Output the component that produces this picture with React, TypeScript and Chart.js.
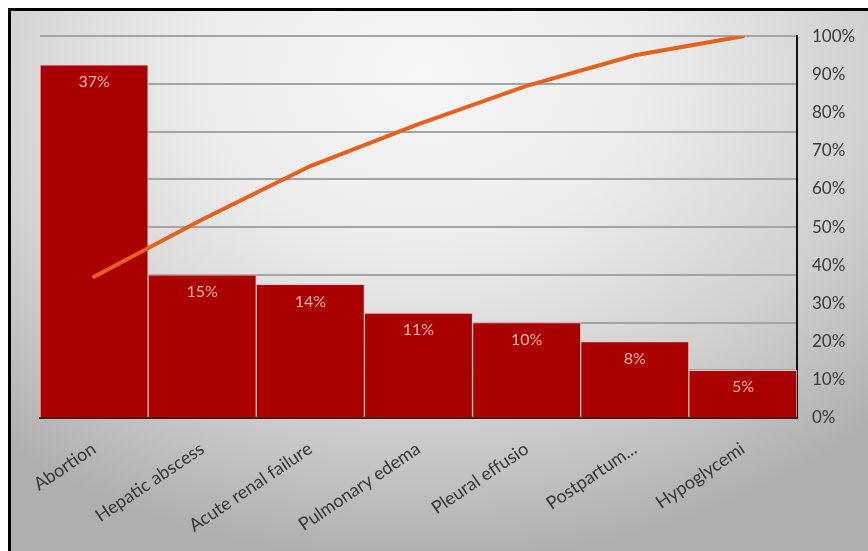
import React, { useEffect, useRef } from "react";
import { Chart, registerables } from "chart.js";

Chart.register(...registerables);

const categories = [
  "Abortion",
  "Hepatic abscess",
  "Acute renal failure",
  "Pulmonary edema",
  "Pleural effusio",
  "Postpartum...",
  "Hypoglycemi",
];
const barValues = [37, 15, 14, 11, 10, 8, 5];
const barLabels = ["37%", "15%", "14%", "11%", "10%", "8%", "5%"];
const cumulative = [0.37, 0.52, 0.66, 0.77, 0.87, 0.95, 1.0];

const FONT = "Lato, 'Open Sans', sans-serif";

const barLabelPlugin = {
  id: "barLabels",
  afterDatasetsDraw(chart: any) {
    const meta = chart.getDatasetMeta(1);
    const ctx = chart.ctx;
    ctx.save();
    ctx.fillStyle = "#f7b0b0";
    ctx.font = `16px ${FONT}`;
    ctx.textAlign = "center";
    ctx.textBaseline = "middle";
    meta.data.forEach((bar: any, i: number) => {
      ctx.fillText(barLabels[i], bar.x, bar.y + 17);
    });
    ctx.restore();
  },
};

export default function App() {
  const ref = useRef<HTMLCanvasElement>(null);
  useEffect(() => {
    if (!ref.current) return;
    const chart = new Chart(ref.current, {
      type: "bar",
      data: {
        labels: categories,
        datasets: [
          {
            type: "line",
            data: cumulative,
            yAxisID: "y1",
            borderColor: "#e8601c",
            borderWidth: 4,
            pointRadius: 0,
            tension: 0,
            borderCapStyle: "round",
            order: 0,
          } as any,
          {
            type: "bar",
            data: barValues,
            yAxisID: "y",
            backgroundColor: "#aa0000",
            borderColor: "#f0c2c2",
            borderWidth: 1,
            barPercentage: 1,
            categoryPercentage: 1,
            order: 1,
          } as any,
        ],
      },
      options: {
        responsive: false,
        animation: false,
        layout: { padding: { top: 22, left: 29, right: 0, bottom: 0 } },
        plugins: {
          legend: { display: false },
          tooltip: { enabled: false },
        },
        scales: {
          x: {
            grid: { display: false },
            border: { display: true, color: "#4a1818", width: 2 },
            ticks: {
              color: "#353535",
              font: { family: FONT, size: 18 },
              minRotation: 34,
              maxRotation: 34,
              autoSkip: false,
              padding: 12,
            },
            afterFit(scale: any) {
              scale.height = 133;
            },
          },
          y: {
            position: "left",
            min: 0,
            max: 40,
            ticks: { display: false, stepSize: 5 },
            border: { display: false },
            grid: { color: "#a4a4a4", lineWidth: 2, drawTicks: false },
            afterFit(scale: any) {
              scale.width = 0;
            },
          },
          y1: {
            position: "right",
            min: 0,
            max: 1,
            ticks: {
              stepSize: 0.1,
              color: "#383838",
              font: { family: FONT, size: 17 },
              padding: 15,
              callback: (v: any) => `${Math.round(Number(v) * 100)}%`,
            },
            border: { display: true, color: "#111111", width: 2 },
            grid: { drawOnChartArea: false, drawTicks: false },
            afterFit(scale: any) {
              scale.width = 71;
            },
          },
        },
      },
      plugins: [barLabelPlugin],
    });
    return () => chart.destroy();
  }, []);

  return (
    <div
      style={{
        position: "fixed",
        left: 8,
        top: 8,
        width: 860,
        height: 543,
        boxSizing: "border-box",
        borderTop: "3px solid #000",
        borderLeft: "3px solid #000",
        background:
          "radial-gradient(ellipse 75% 90% at 48% 12%, #f7f7f7 0%, #ececec 35%, #d0d0d0 70%, #afafaf 100%)",
        overflow: "hidden",
      }}
    >
      <canvas ref={ref} width={857} height={540} style={{ display: "block" }} />
    </div>
  );
}
